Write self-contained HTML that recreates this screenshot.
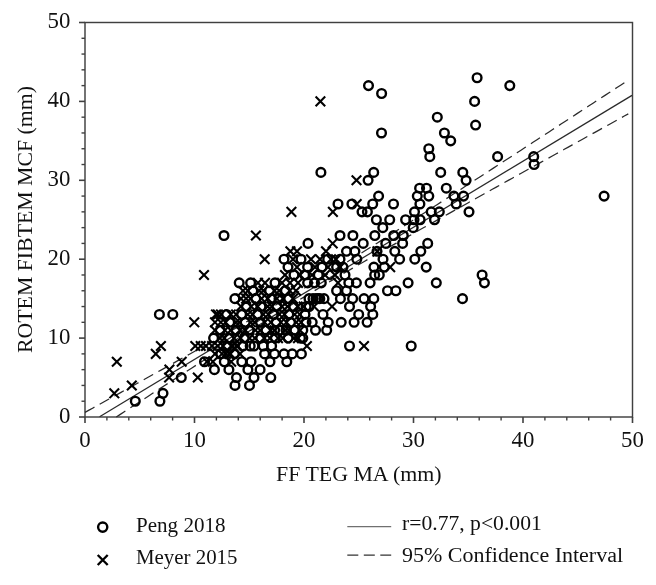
<!DOCTYPE html>
<html><head><meta charset="utf-8"><style>
html,body{margin:0;padding:0;background:#fff;width:656px;height:585px;overflow:hidden}
svg{display:block;filter:grayscale(1)}
.t{font-family:"Liberation Serif",serif;font-size:22px;fill:#111}
.tk{font-family:"Liberation Serif",serif;font-size:22.8px;fill:#111}
.l{font-family:"Liberation Serif",serif;font-size:20.8px;fill:#111}
circle{fill:none;stroke:#000;stroke-width:2.4}
path{fill:none;stroke:#000;stroke-width:2.1}
.o{stroke-width:2.4}
.x{stroke-width:2.4}
</style></head><body>
<svg width="656" height="585" viewBox="0 0 656 585">
<rect x="85.0" y="22.5" width="547.5" height="394.5" fill="none" stroke="#404040" stroke-width="1.45"/>
<line x1="79.0" y1="417.00" x2="85.0" y2="417.00" stroke="#404040" stroke-width="1.6"/>
<line x1="81.5" y1="401.22" x2="85.0" y2="401.22" stroke="#404040" stroke-width="1.4"/>
<line x1="81.5" y1="385.44" x2="85.0" y2="385.44" stroke="#404040" stroke-width="1.4"/>
<line x1="81.5" y1="369.66" x2="85.0" y2="369.66" stroke="#404040" stroke-width="1.4"/>
<line x1="81.5" y1="353.88" x2="85.0" y2="353.88" stroke="#404040" stroke-width="1.4"/>
<line x1="79.0" y1="338.10" x2="85.0" y2="338.10" stroke="#404040" stroke-width="1.6"/>
<line x1="81.5" y1="322.32" x2="85.0" y2="322.32" stroke="#404040" stroke-width="1.4"/>
<line x1="81.5" y1="306.54" x2="85.0" y2="306.54" stroke="#404040" stroke-width="1.4"/>
<line x1="81.5" y1="290.76" x2="85.0" y2="290.76" stroke="#404040" stroke-width="1.4"/>
<line x1="81.5" y1="274.98" x2="85.0" y2="274.98" stroke="#404040" stroke-width="1.4"/>
<line x1="79.0" y1="259.20" x2="85.0" y2="259.20" stroke="#404040" stroke-width="1.6"/>
<line x1="81.5" y1="243.42" x2="85.0" y2="243.42" stroke="#404040" stroke-width="1.4"/>
<line x1="81.5" y1="227.64" x2="85.0" y2="227.64" stroke="#404040" stroke-width="1.4"/>
<line x1="81.5" y1="211.86" x2="85.0" y2="211.86" stroke="#404040" stroke-width="1.4"/>
<line x1="81.5" y1="196.08" x2="85.0" y2="196.08" stroke="#404040" stroke-width="1.4"/>
<line x1="79.0" y1="180.30" x2="85.0" y2="180.30" stroke="#404040" stroke-width="1.6"/>
<line x1="81.5" y1="164.52" x2="85.0" y2="164.52" stroke="#404040" stroke-width="1.4"/>
<line x1="81.5" y1="148.74" x2="85.0" y2="148.74" stroke="#404040" stroke-width="1.4"/>
<line x1="81.5" y1="132.96" x2="85.0" y2="132.96" stroke="#404040" stroke-width="1.4"/>
<line x1="81.5" y1="117.18" x2="85.0" y2="117.18" stroke="#404040" stroke-width="1.4"/>
<line x1="79.0" y1="101.40" x2="85.0" y2="101.40" stroke="#404040" stroke-width="1.6"/>
<line x1="81.5" y1="85.62" x2="85.0" y2="85.62" stroke="#404040" stroke-width="1.4"/>
<line x1="81.5" y1="69.84" x2="85.0" y2="69.84" stroke="#404040" stroke-width="1.4"/>
<line x1="81.5" y1="54.06" x2="85.0" y2="54.06" stroke="#404040" stroke-width="1.4"/>
<line x1="81.5" y1="38.28" x2="85.0" y2="38.28" stroke="#404040" stroke-width="1.4"/>
<line x1="79.0" y1="22.50" x2="85.0" y2="22.50" stroke="#404040" stroke-width="1.6"/>
<line x1="85.00" y1="417.0" x2="85.00" y2="423.0" stroke="#404040" stroke-width="1.6"/>
<line x1="106.90" y1="417.0" x2="106.90" y2="420.5" stroke="#404040" stroke-width="1.4"/>
<line x1="128.80" y1="417.0" x2="128.80" y2="420.5" stroke="#404040" stroke-width="1.4"/>
<line x1="150.70" y1="417.0" x2="150.70" y2="420.5" stroke="#404040" stroke-width="1.4"/>
<line x1="172.60" y1="417.0" x2="172.60" y2="420.5" stroke="#404040" stroke-width="1.4"/>
<line x1="194.50" y1="417.0" x2="194.50" y2="423.0" stroke="#404040" stroke-width="1.6"/>
<line x1="216.40" y1="417.0" x2="216.40" y2="420.5" stroke="#404040" stroke-width="1.4"/>
<line x1="238.30" y1="417.0" x2="238.30" y2="420.5" stroke="#404040" stroke-width="1.4"/>
<line x1="260.20" y1="417.0" x2="260.20" y2="420.5" stroke="#404040" stroke-width="1.4"/>
<line x1="282.10" y1="417.0" x2="282.10" y2="420.5" stroke="#404040" stroke-width="1.4"/>
<line x1="304.00" y1="417.0" x2="304.00" y2="423.0" stroke="#404040" stroke-width="1.6"/>
<line x1="325.90" y1="417.0" x2="325.90" y2="420.5" stroke="#404040" stroke-width="1.4"/>
<line x1="347.80" y1="417.0" x2="347.80" y2="420.5" stroke="#404040" stroke-width="1.4"/>
<line x1="369.70" y1="417.0" x2="369.70" y2="420.5" stroke="#404040" stroke-width="1.4"/>
<line x1="391.60" y1="417.0" x2="391.60" y2="420.5" stroke="#404040" stroke-width="1.4"/>
<line x1="413.50" y1="417.0" x2="413.50" y2="423.0" stroke="#404040" stroke-width="1.6"/>
<line x1="435.40" y1="417.0" x2="435.40" y2="420.5" stroke="#404040" stroke-width="1.4"/>
<line x1="457.30" y1="417.0" x2="457.30" y2="420.5" stroke="#404040" stroke-width="1.4"/>
<line x1="479.20" y1="417.0" x2="479.20" y2="420.5" stroke="#404040" stroke-width="1.4"/>
<line x1="501.10" y1="417.0" x2="501.10" y2="420.5" stroke="#404040" stroke-width="1.4"/>
<line x1="523.00" y1="417.0" x2="523.00" y2="423.0" stroke="#404040" stroke-width="1.6"/>
<line x1="544.90" y1="417.0" x2="544.90" y2="420.5" stroke="#404040" stroke-width="1.4"/>
<line x1="566.80" y1="417.0" x2="566.80" y2="420.5" stroke="#404040" stroke-width="1.4"/>
<line x1="588.70" y1="417.0" x2="588.70" y2="420.5" stroke="#404040" stroke-width="1.4"/>
<line x1="610.60" y1="417.0" x2="610.60" y2="420.5" stroke="#404040" stroke-width="1.4"/>
<line x1="632.50" y1="417.0" x2="632.50" y2="423.0" stroke="#404040" stroke-width="1.6"/>
<text x="70.3" y="422.90" text-anchor="end" class="tk">0</text>
<text x="85.00" y="447" text-anchor="middle" class="tk">0</text>
<text x="70.3" y="344.00" text-anchor="end" class="tk">10</text>
<text x="194.50" y="447" text-anchor="middle" class="tk">10</text>
<text x="70.3" y="265.10" text-anchor="end" class="tk">20</text>
<text x="304.00" y="447" text-anchor="middle" class="tk">20</text>
<text x="70.3" y="186.20" text-anchor="end" class="tk">30</text>
<text x="413.50" y="447" text-anchor="middle" class="tk">30</text>
<text x="70.3" y="107.30" text-anchor="end" class="tk">40</text>
<text x="523.00" y="447" text-anchor="middle" class="tk">40</text>
<text x="70.3" y="28.40" text-anchor="end" class="tk">50</text>
<text x="632.50" y="447" text-anchor="middle" class="tk">50</text>
<text x="276" y="480.5" textLength="165.5" lengthAdjust="spacingAndGlyphs" class="t">FF TEG MA (mm)</text>
<text transform="translate(32,353) rotate(-90)" textLength="267" lengthAdjust="spacingAndGlyphs" class="t">ROTEM FIBTEM MCF (mm)</text>
<line x1="99.6" y1="416.7" x2="632" y2="95.40" stroke="#2a2a2a" stroke-width="1.25"/>
<polyline points="85.0,412.39 89.0,410.17 93.0,407.95 97.0,405.73 101.0,403.51 105.0,401.28 109.0,399.06 113.0,396.84 117.0,394.61 121.0,392.39 125.0,390.16 129.0,387.94 133.0,385.71 137.0,383.48 141.0,381.25 145.0,379.02 149.0,376.79 153.0,374.56 157.0,372.33 161.0,370.10 165.0,367.86 169.0,365.63 173.0,363.39 177.0,361.15 181.0,358.91 185.0,356.67 189.0,354.43 193.0,352.19 197.0,349.94 201.0,347.69 205.0,345.44 209.0,343.19 213.0,340.93 217.0,338.67 221.0,336.41 225.0,334.15 229.0,331.88 233.0,329.61 237.0,327.34 241.0,325.06 245.0,322.78 249.0,320.49 253.0,318.20 257.0,315.90 261.0,313.60 265.0,311.29 269.0,308.97 273.0,306.65 277.0,304.32 281.0,301.98 285.0,299.63 289.0,297.28 293.0,294.91 297.0,292.54 301.0,290.16 305.0,287.77 309.0,285.37 313.0,282.96 317.0,280.54 321.0,278.10 325.0,275.66 329.0,273.21 333.0,270.76 337.0,268.29 341.0,265.81 345.0,263.33 349.0,260.83 353.0,258.33 357.0,255.83 361.0,253.31 365.0,250.79 369.0,248.26 373.0,245.73 377.0,243.19 381.0,240.65 385.0,238.11 389.0,235.55 393.0,233.00 397.0,230.44 401.0,227.88 405.0,225.31 409.0,222.74 413.0,220.17 417.0,217.60 421.0,215.02 425.0,212.45 429.0,209.86 433.0,207.28 437.0,204.70 441.0,202.11 445.0,199.52 449.0,196.94 453.0,194.35 457.0,191.75 461.0,189.16 465.0,186.57 469.0,183.97 473.0,181.37 477.0,178.78 481.0,176.18 485.0,173.58 489.0,170.98 493.0,168.38 497.0,165.78 501.0,163.18 505.0,160.57 509.0,157.97 513.0,155.37 517.0,152.76 521.0,150.16 525.0,147.55 529.0,144.95 533.0,142.34 537.0,139.73 541.0,137.12 545.0,134.52 549.0,131.91 553.0,129.30 557.0,126.69 561.0,124.08 565.0,121.47 569.0,118.86 573.0,116.25 577.0,113.64 581.0,111.03 585.0,108.42 589.0,105.81 593.0,103.20 597.0,100.59 601.0,97.97 605.0,95.36 609.0,92.75 613.0,90.14 617.0,87.52 621.0,84.91 625.0,82.30 629.0,79.69" fill="none" stroke="#2a2a2a" stroke-width="1.25" stroke-dasharray="10.8,6"/>
<polyline points="116.3,416.98 120.3,414.38 124.3,411.78 128.3,409.17 132.3,406.57 136.3,403.97 140.3,401.37 144.3,398.77 148.3,396.17 152.3,393.58 156.3,390.98 160.3,388.39 164.3,385.79 168.3,383.20 172.3,380.61 176.3,378.02 180.3,375.43 184.3,372.84 188.3,370.26 192.3,367.67 196.3,365.09 200.3,362.51 204.3,359.93 208.3,357.36 212.3,354.78 216.3,352.21 220.3,349.65 224.3,347.08 228.3,344.52 232.3,341.96 236.3,339.41 240.3,336.86 244.3,334.31 248.3,331.77 252.3,329.23 256.3,326.70 260.3,324.18 264.3,321.66 268.3,319.14 272.3,316.64 276.3,314.14 280.3,311.65 284.3,309.16 288.3,306.69 292.3,304.22 296.3,301.77 300.3,299.32 304.3,296.88 308.3,294.45 312.3,292.03 316.3,289.62 320.3,287.23 324.3,284.84 328.3,282.46 332.3,280.09 336.3,277.72 340.3,275.37 344.3,273.03 348.3,270.69 352.3,268.36 356.3,266.04 360.3,263.72 364.3,261.42 368.3,259.11 372.3,256.82 376.3,254.53 380.3,252.24 384.3,249.96 388.3,247.68 392.3,245.41 396.3,243.14 400.3,240.87 404.3,238.61 408.3,236.35 412.3,234.09 416.3,231.83 420.3,229.58 424.3,227.33 428.3,225.08 432.3,222.84 436.3,220.59 440.3,218.35 444.3,216.11 448.3,213.87 452.3,211.63 456.3,209.40 460.3,207.16 464.3,204.93 468.3,202.69 472.3,200.46 476.3,198.23 480.3,196.00 484.3,193.77 488.3,191.54 492.3,189.32 496.3,187.09 500.3,184.86 504.3,182.64 508.3,180.41 512.3,178.19 516.3,175.97 520.3,173.74 524.3,171.52 528.3,169.30 532.3,167.08 536.3,164.86 540.3,162.64 544.3,160.41 548.3,158.19 552.3,155.98 556.3,153.76 560.3,151.54 564.3,149.32 568.3,147.10 572.3,144.88 576.3,142.67 580.3,140.45 584.3,138.23 588.3,136.01 592.3,133.80 596.3,131.58 600.3,129.36 604.3,127.15 608.3,124.93 612.3,122.72 616.3,120.50 620.3,118.29 624.3,116.07 628.3,113.86" fill="none" stroke="#2a2a2a" stroke-width="1.25" stroke-dasharray="10.8,6"/>
<circle cx="477.1" cy="77.73" r="4.35"/>
<circle cx="368.5" cy="85.62" r="4.35"/>
<circle cx="509.8" cy="85.62" r="4.35"/>
<circle cx="381.6" cy="93.51" r="4.35"/>
<circle cx="474.6" cy="101.4" r="4.35"/>
<circle cx="437.3" cy="117.18" r="4.35"/>
<circle cx="475.6" cy="125.07" r="4.35"/>
<circle cx="444.4" cy="132.96" r="4.35"/>
<circle cx="381.5" cy="132.96" r="4.35"/>
<circle cx="450.7" cy="140.85" r="4.35"/>
<circle cx="428.8" cy="148.74" r="4.35"/>
<circle cx="429.8" cy="156.63" r="4.35"/>
<circle cx="497.6" cy="156.63" r="4.35"/>
<circle cx="533.7" cy="156.63" r="4.35"/>
<circle cx="534.1" cy="164.52" r="4.35"/>
<circle cx="320.9" cy="172.41" r="4.35"/>
<circle cx="373.7" cy="172.41" r="4.35"/>
<circle cx="440.7" cy="172.41" r="4.35"/>
<circle cx="462.8" cy="172.41" r="4.35"/>
<circle cx="368.1" cy="180.3" r="4.35"/>
<circle cx="466.1" cy="180.3" r="4.35"/>
<circle cx="419.6" cy="188.19" r="4.35"/>
<circle cx="426.5" cy="188.19" r="4.35"/>
<circle cx="446.3" cy="188.19" r="4.35"/>
<circle cx="604.1" cy="196.08" r="4.35"/>
<circle cx="378.6" cy="196.08" r="4.35"/>
<circle cx="417.3" cy="196.08" r="4.35"/>
<circle cx="428.8" cy="196.08" r="4.35"/>
<circle cx="453.9" cy="196.08" r="4.35"/>
<circle cx="463.5" cy="196.08" r="4.35"/>
<circle cx="338" cy="203.97" r="4.35"/>
<circle cx="351.9" cy="203.97" r="4.35"/>
<circle cx="372.7" cy="203.97" r="4.35"/>
<circle cx="393.5" cy="203.97" r="4.35"/>
<circle cx="419.9" cy="203.97" r="4.35"/>
<circle cx="456.2" cy="203.97" r="4.35"/>
<circle cx="362" cy="211.86" r="4.35"/>
<circle cx="367.4" cy="211.86" r="4.35"/>
<circle cx="414.5" cy="211.86" r="4.35"/>
<circle cx="431.2" cy="211.86" r="4.35"/>
<circle cx="439.3" cy="211.86" r="4.35"/>
<circle cx="469" cy="211.86" r="4.35"/>
<circle cx="376.4" cy="219.75" r="4.35"/>
<circle cx="389.7" cy="219.75" r="4.35"/>
<circle cx="405.6" cy="219.75" r="4.35"/>
<circle cx="414" cy="219.75" r="4.35"/>
<circle cx="420.1" cy="219.75" r="4.35"/>
<circle cx="434.5" cy="219.75" r="4.35"/>
<circle cx="382.8" cy="227.64" r="4.35"/>
<circle cx="413.2" cy="227.64" r="4.35"/>
<circle cx="224" cy="235.53" r="4.35"/>
<circle cx="340" cy="235.53" r="4.35"/>
<circle cx="352.9" cy="235.53" r="4.35"/>
<circle cx="374.8" cy="235.53" r="4.35"/>
<circle cx="393.7" cy="235.53" r="4.35"/>
<circle cx="403.3" cy="235.53" r="4.35"/>
<circle cx="308" cy="243.42" r="4.35"/>
<circle cx="363.2" cy="243.42" r="4.35"/>
<circle cx="385.8" cy="243.42" r="4.35"/>
<circle cx="402.6" cy="243.42" r="4.35"/>
<circle cx="427.7" cy="243.42" r="4.35"/>
<circle cx="346.5" cy="251.31" r="4.35"/>
<circle cx="354.9" cy="251.31" r="4.35"/>
<circle cx="377" cy="251.31" r="4.35"/>
<circle cx="394.8" cy="251.31" r="4.35"/>
<circle cx="420.8" cy="251.31" r="4.35"/>
<circle cx="284" cy="259.2" r="4.35"/>
<circle cx="301" cy="259.2" r="4.35"/>
<circle cx="327.7" cy="259.2" r="4.35"/>
<circle cx="340" cy="259.2" r="4.35"/>
<circle cx="356.8" cy="259.2" r="4.35"/>
<circle cx="383" cy="259.2" r="4.35"/>
<circle cx="399.6" cy="259.2" r="4.35"/>
<circle cx="414.8" cy="259.2" r="4.35"/>
<circle cx="288" cy="267.09" r="4.35"/>
<circle cx="307.6" cy="267.09" r="4.35"/>
<circle cx="322" cy="267.09" r="4.35"/>
<circle cx="336.6" cy="267.09" r="4.35"/>
<circle cx="343" cy="267.09" r="4.35"/>
<circle cx="373.9" cy="267.09" r="4.35"/>
<circle cx="384.3" cy="267.09" r="4.35"/>
<circle cx="426.2" cy="267.09" r="4.35"/>
<circle cx="294" cy="274.98" r="4.35"/>
<circle cx="304.6" cy="274.98" r="4.35"/>
<circle cx="318.3" cy="274.98" r="4.35"/>
<circle cx="345" cy="274.98" r="4.35"/>
<circle cx="374.7" cy="274.98" r="4.35"/>
<circle cx="379.3" cy="274.98" r="4.35"/>
<circle cx="482.1" cy="274.98" r="4.35"/>
<circle cx="239.2" cy="282.87" r="4.35"/>
<circle cx="250.6" cy="282.87" r="4.35"/>
<circle cx="275" cy="282.87" r="4.35"/>
<circle cx="307.6" cy="282.87" r="4.35"/>
<circle cx="314.5" cy="282.87" r="4.35"/>
<circle cx="321.3" cy="282.87" r="4.35"/>
<circle cx="348.8" cy="282.87" r="4.35"/>
<circle cx="356.4" cy="282.87" r="4.35"/>
<circle cx="370.1" cy="282.87" r="4.35"/>
<circle cx="408.1" cy="282.87" r="4.35"/>
<circle cx="436.3" cy="282.87" r="4.35"/>
<circle cx="484.4" cy="282.87" r="4.35"/>
<circle cx="336.6" cy="290.76" r="4.35"/>
<circle cx="346.5" cy="290.76" r="4.35"/>
<circle cx="387.5" cy="290.76" r="4.35"/>
<circle cx="395.9" cy="290.76" r="4.35"/>
<circle cx="234.9" cy="298.65" r="4.35"/>
<circle cx="279" cy="298.65" r="4.35"/>
<circle cx="313" cy="298.65" r="4.35"/>
<circle cx="316" cy="298.65" r="4.35"/>
<circle cx="319.8" cy="298.65" r="4.35"/>
<circle cx="340.4" cy="298.65" r="4.35"/>
<circle cx="352.6" cy="298.65" r="4.35"/>
<circle cx="364" cy="298.65" r="4.35"/>
<circle cx="373.8" cy="298.65" r="4.35"/>
<circle cx="462.5" cy="298.65" r="4.35"/>
<circle cx="306.1" cy="306.54" r="4.35"/>
<circle cx="349.5" cy="306.54" r="4.35"/>
<circle cx="370.6" cy="306.54" r="4.35"/>
<circle cx="159.4" cy="314.43" r="4.35"/>
<circle cx="172.8" cy="314.43" r="4.35"/>
<circle cx="323" cy="314.43" r="4.35"/>
<circle cx="358.7" cy="314.43" r="4.35"/>
<circle cx="372.8" cy="314.43" r="4.35"/>
<circle cx="312.2" cy="322.32" r="4.35"/>
<circle cx="328.2" cy="322.32" r="4.35"/>
<circle cx="341.2" cy="322.32" r="4.35"/>
<circle cx="354.1" cy="322.32" r="4.35"/>
<circle cx="367.1" cy="322.32" r="4.35"/>
<circle cx="274.6" cy="330.21" r="4.35"/>
<circle cx="286" cy="330.21" r="4.35"/>
<circle cx="302.8" cy="330.21" r="4.35"/>
<circle cx="315.5" cy="330.21" r="4.35"/>
<circle cx="326.7" cy="330.21" r="4.35"/>
<circle cx="213.6" cy="338.1" r="4.35"/>
<circle cx="275.3" cy="338.1" r="4.35"/>
<circle cx="300.5" cy="338.1" r="4.35"/>
<circle cx="302.8" cy="338.1" r="4.35"/>
<circle cx="250.2" cy="345.99" r="4.35"/>
<circle cx="254" cy="345.99" r="4.35"/>
<circle cx="263.2" cy="345.99" r="4.35"/>
<circle cx="271.6" cy="345.99" r="4.35"/>
<circle cx="349.5" cy="345.99" r="4.35"/>
<circle cx="411.2" cy="345.99" r="4.35"/>
<circle cx="264.6" cy="353.88" r="4.35"/>
<circle cx="274.5" cy="353.88" r="4.35"/>
<circle cx="284" cy="353.88" r="4.35"/>
<circle cx="292.2" cy="353.88" r="4.35"/>
<circle cx="301.4" cy="353.88" r="4.35"/>
<circle cx="204.5" cy="361.77" r="4.35"/>
<circle cx="224.3" cy="361.77" r="4.35"/>
<circle cx="241.8" cy="361.77" r="4.35"/>
<circle cx="251" cy="361.77" r="4.35"/>
<circle cx="270" cy="361.77" r="4.35"/>
<circle cx="286.8" cy="361.77" r="4.35"/>
<circle cx="214.4" cy="369.66" r="4.35"/>
<circle cx="228.9" cy="369.66" r="4.35"/>
<circle cx="247.9" cy="369.66" r="4.35"/>
<circle cx="260.1" cy="369.66" r="4.35"/>
<circle cx="181.3" cy="377.55" r="4.35"/>
<circle cx="236.5" cy="377.55" r="4.35"/>
<circle cx="254" cy="377.55" r="4.35"/>
<circle cx="270.8" cy="377.55" r="4.35"/>
<circle cx="235" cy="385.44" r="4.35"/>
<circle cx="249.5" cy="385.44" r="4.35"/>
<circle cx="163" cy="393.33" r="4.35"/>
<circle cx="135.3" cy="401.22" r="4.35"/>
<circle cx="159.9" cy="401.22" r="4.35"/>
<circle cx="252.9" cy="290.76" r="4.35"/>
<circle cx="269.6" cy="290.76" r="4.35"/>
<circle cx="285.4" cy="290.76" r="4.35"/>
<circle cx="255.8" cy="298.65" r="4.35"/>
<circle cx="271.4" cy="298.65" r="4.35"/>
<circle cx="288.7" cy="298.65" r="4.35"/>
<circle cx="246.4" cy="306.54" r="4.35"/>
<circle cx="261.0" cy="306.54" r="4.35"/>
<circle cx="276.8" cy="306.54" r="4.35"/>
<circle cx="293.8" cy="306.54" r="4.35"/>
<circle cx="309.1" cy="306.54" r="4.35"/>
<circle cx="226.6" cy="314.43" r="4.35"/>
<circle cx="241.6" cy="314.43" r="4.35"/>
<circle cx="257.5" cy="314.43" r="4.35"/>
<circle cx="273.2" cy="314.43" r="4.35"/>
<circle cx="288.8" cy="314.43" r="4.35"/>
<circle cx="305.0" cy="314.43" r="4.35"/>
<circle cx="229.7" cy="322.32" r="4.35"/>
<circle cx="245.2" cy="322.32" r="4.35"/>
<circle cx="260.5" cy="322.32" r="4.35"/>
<circle cx="276.2" cy="322.32" r="4.35"/>
<circle cx="290.5" cy="322.32" r="4.35"/>
<circle cx="306.0" cy="322.32" r="4.35"/>
<circle cx="220.2" cy="330.21" r="4.35"/>
<circle cx="235.9" cy="330.21" r="4.35"/>
<circle cx="249.1" cy="330.21" r="4.35"/>
<circle cx="266.0" cy="330.21" r="4.35"/>
<circle cx="279.8" cy="330.21" r="4.35"/>
<circle cx="294.9" cy="330.21" r="4.35"/>
<circle cx="229.2" cy="338.1" r="4.35"/>
<circle cx="244.3" cy="338.1" r="4.35"/>
<circle cx="260.7" cy="338.1" r="4.35"/>
<circle cx="288.1" cy="338.1" r="4.35"/>
<circle cx="227.1" cy="345.99" r="4.35"/>
<circle cx="243.0" cy="345.99" r="4.35"/>
<circle cx="220.8" cy="353.88" r="4.35"/>
<circle cx="234.4" cy="353.88" r="4.35"/>
<circle cx="309" cy="298.65" r="4.35"/>
<circle cx="318" cy="298.65" r="4.35"/>
<circle cx="324" cy="298.65" r="4.35"/>
<path d="M315.59999999999997 96.60000000000001L325.2 106.2M315.59999999999997 106.2L325.2 96.60000000000001"/>
<path d="M351.7 175.5L361.3 185.10000000000002M351.7 185.10000000000002L361.3 175.5"/>
<path d="M351.9 199.17L361.5 208.77M351.9 208.77L361.5 199.17"/>
<path d="M286.59999999999997 207.06L296.2 216.66000000000003M286.59999999999997 216.66000000000003L296.2 207.06"/>
<path d="M328.09999999999997 207.06L337.7 216.66000000000003M328.09999999999997 216.66000000000003L337.7 207.06"/>
<path d="M327.9 238.61999999999998L337.5 248.22M327.9 248.22L337.5 238.61999999999998"/>
<path d="M285.59999999999997 246.51L295.2 256.11M285.59999999999997 256.11L295.2 246.51"/>
<path d="M292.2 246.51L301.8 256.11M292.2 256.11L301.8 246.51"/>
<path d="M321.2 246.51L330.8 256.11M321.2 256.11L330.8 246.51"/>
<path d="M372.59999999999997 246.51L382.2 256.11M372.59999999999997 256.11L382.2 246.51"/>
<path d="M259.9 254.39999999999998L269.5 264.0M259.9 264.0L269.5 254.39999999999998"/>
<path d="M385.4 262.28999999999996L395.0 271.89M385.4 271.89L395.0 262.28999999999996"/>
<path d="M199.2 270.18L208.8 279.78000000000003M199.2 279.78000000000003L208.8 270.18"/>
<path d="M327.2 301.74L336.8 311.34000000000003M327.2 311.34000000000003L336.8 301.74"/>
<path d="M213.1 309.63L222.70000000000002 319.23M213.1 319.23L222.70000000000002 309.63"/>
<path d="M189.5 317.52L199.10000000000002 327.12M189.5 327.12L199.10000000000002 317.52"/>
<path d="M156.1 341.19L165.70000000000002 350.79M156.1 350.79L165.70000000000002 341.19"/>
<path d="M190.5 341.19L200.10000000000002 350.79M190.5 350.79L200.10000000000002 341.19"/>
<path d="M195.89999999999998 341.19L205.5 350.79M195.89999999999998 350.79L205.5 341.19"/>
<path d="M201.2 341.19L210.8 350.79M201.2 350.79L210.8 341.19"/>
<path d="M226.39999999999998 341.19L236.0 350.79M226.39999999999998 350.79L236.0 341.19"/>
<path d="M231.7 341.19L241.3 350.79M231.7 350.79L241.3 341.19"/>
<path d="M302.09999999999997 341.19L311.7 350.79M302.09999999999997 350.79L311.7 341.19"/>
<path d="M359.2 341.19L368.8 350.79M359.2 350.79L368.8 341.19"/>
<path d="M151.0 349.08L160.60000000000002 358.68M151.0 358.68L160.60000000000002 349.08"/>
<path d="M217.2 349.08L226.8 358.68M217.2 358.68L226.8 349.08"/>
<path d="M225.6 349.08L235.20000000000002 358.68M225.6 358.68L235.20000000000002 349.08"/>
<path d="M112.0 356.96999999999997L121.6 366.57M112.0 366.57L121.6 356.96999999999997"/>
<path d="M176.89999999999998 356.96999999999997L186.5 366.57M176.89999999999998 366.57L186.5 356.96999999999997"/>
<path d="M202.2 356.96999999999997L211.8 366.57M202.2 366.57L211.8 356.96999999999997"/>
<path d="M208.1 356.96999999999997L217.70000000000002 366.57M208.1 366.57L217.70000000000002 356.96999999999997"/>
<path d="M226.39999999999998 356.96999999999997L236.0 366.57M226.39999999999998 366.57L236.0 356.96999999999997"/>
<path d="M164.6 364.86L174.20000000000002 374.46000000000004M164.6 374.46000000000004L174.20000000000002 364.86"/>
<path d="M164.29999999999998 372.75L173.9 382.35M164.29999999999998 382.35L173.9 372.75"/>
<path d="M193.0 372.75L202.60000000000002 382.35M193.0 382.35L202.60000000000002 372.75"/>
<path d="M127.00000000000001 380.64L136.60000000000002 390.24M127.00000000000001 390.24L136.60000000000002 380.64"/>
<path d="M109.5 388.53L119.1 398.13M109.5 398.13L119.1 388.53"/>
<path d="M251.1 230.73L260.7 240.33M251.1 240.33L260.7 230.73"/>
<path d="M238.2 285.96L247.8 295.56M238.2 295.56L247.8 285.96"/>
<path d="M243.1 285.96L252.70000000000002 295.56M243.1 295.56L252.70000000000002 285.96"/>
<path d="M254.39999999999998 285.96L264.0 295.56M254.39999999999998 295.56L264.0 285.96"/>
<path d="M258.5 285.96L268.1 295.56M258.5 295.56L268.1 285.96"/>
<path d="M269.7 285.96L279.3 295.56M269.7 295.56L279.3 285.96"/>
<path d="M274.4 285.96L284.0 295.56M274.4 295.56L284.0 285.96"/>
<path d="M285.0 285.96L294.6 295.56M285.0 295.56L294.6 285.96"/>
<path d="M291.2 285.96L300.8 295.56M291.2 295.56L300.8 285.96"/>
<path d="M236.2 293.84999999999997L245.8 303.45M236.2 303.45L245.8 293.84999999999997"/>
<path d="M241.29999999999998 293.84999999999997L250.9 303.45M241.29999999999998 303.45L250.9 293.84999999999997"/>
<path d="M245.7 293.84999999999997L255.3 303.45M245.7 303.45L255.3 293.84999999999997"/>
<path d="M256.8 293.84999999999997L266.40000000000003 303.45M256.8 303.45L266.40000000000003 293.84999999999997"/>
<path d="M262.9 293.84999999999997L272.5 303.45M262.9 303.45L272.5 293.84999999999997"/>
<path d="M272.0 293.84999999999997L281.6 303.45M272.0 303.45L281.6 293.84999999999997"/>
<path d="M278.09999999999997 293.84999999999997L287.7 303.45M278.09999999999997 303.45L287.7 293.84999999999997"/>
<path d="M288.2 293.84999999999997L297.8 303.45M288.2 303.45L297.8 293.84999999999997"/>
<path d="M236.2 301.74L245.8 311.34000000000003M236.2 311.34000000000003L245.8 301.74"/>
<path d="M246.39999999999998 301.74L256.0 311.34000000000003M246.39999999999998 311.34000000000003L256.0 301.74"/>
<path d="M252.8 301.74L262.40000000000003 311.34000000000003M252.8 311.34000000000003L262.40000000000003 301.74"/>
<path d="M263.0 301.74L272.6 311.34000000000003M263.0 311.34000000000003L272.6 301.74"/>
<path d="M267.09999999999997 301.74L276.7 311.34000000000003M267.09999999999997 311.34000000000003L276.7 301.74"/>
<path d="M277.09999999999997 301.74L286.7 311.34000000000003M277.09999999999997 311.34000000000003L286.7 301.74"/>
<path d="M282.7 301.74L292.3 311.34000000000003M282.7 311.34000000000003L292.3 301.74"/>
<path d="M292.9 301.74L302.5 311.34000000000003M292.9 311.34000000000003L302.5 301.74"/>
<path d="M298.9 301.74L308.5 311.34000000000003M298.9 311.34000000000003L308.5 301.74"/>
<path d="M309.2 301.74L318.8 311.34000000000003M309.2 311.34000000000003L318.8 301.74"/>
<path d="M211.2 309.63L220.8 319.23M211.2 319.23L220.8 309.63"/>
<path d="M216.2 309.63L225.8 319.23M216.2 319.23L225.8 309.63"/>
<path d="M226.0 309.63L235.60000000000002 319.23M226.0 319.23L235.60000000000002 309.63"/>
<path d="M231.29999999999998 309.63L240.9 319.23M231.29999999999998 319.23L240.9 309.63"/>
<path d="M243.0 309.63L252.60000000000002 319.23M243.0 319.23L252.60000000000002 309.63"/>
<path d="M247.7 309.63L257.3 319.23M247.7 319.23L257.3 309.63"/>
<path d="M258.5 309.63L268.1 319.23M258.5 319.23L268.1 309.63"/>
<path d="M263.5 309.63L273.1 319.23M263.5 319.23L273.1 309.63"/>
<path d="M274.59999999999997 309.63L284.2 319.23M274.59999999999997 319.23L284.2 309.63"/>
<path d="M279.7 309.63L289.3 319.23M279.7 319.23L289.3 309.63"/>
<path d="M289.9 309.63L299.5 319.23M289.9 319.23L299.5 309.63"/>
<path d="M295.0 309.63L304.6 319.23M295.0 319.23L304.6 309.63"/>
<path d="M210.2 317.52L219.8 327.12M210.2 327.12L219.8 317.52"/>
<path d="M216.0 317.52L225.60000000000002 327.12M216.0 327.12L225.60000000000002 317.52"/>
<path d="M220.79999999999998 317.52L230.4 327.12M220.79999999999998 327.12L230.4 317.52"/>
<path d="M231.39999999999998 317.52L241.0 327.12M231.39999999999998 327.12L241.0 317.52"/>
<path d="M234.7 317.52L244.3 327.12M234.7 327.12L244.3 317.52"/>
<path d="M246.1 317.52L255.70000000000002 327.12M246.1 327.12L255.70000000000002 317.52"/>
<path d="M249.89999999999998 317.52L259.5 327.12M249.89999999999998 327.12L259.5 317.52"/>
<path d="M259.8 317.52L269.40000000000003 327.12M259.8 327.12L269.40000000000003 317.52"/>
<path d="M266.09999999999997 317.52L275.7 327.12M266.09999999999997 327.12L275.7 317.52"/>
<path d="M276.09999999999997 317.52L285.7 327.12M276.09999999999997 327.12L285.7 317.52"/>
<path d="M281.7 317.52L291.3 327.12M281.7 327.12L291.3 317.52"/>
<path d="M291.5 317.52L301.1 327.12M291.5 327.12L301.1 317.52"/>
<path d="M296.3 317.52L305.90000000000003 327.12M296.3 327.12L305.90000000000003 317.52"/>
<path d="M210.2 325.40999999999997L219.8 335.01M210.2 335.01L219.8 325.40999999999997"/>
<path d="M220.1 325.40999999999997L229.70000000000002 335.01M220.1 335.01L229.70000000000002 325.40999999999997"/>
<path d="M225.89999999999998 325.40999999999997L235.5 335.01M225.89999999999998 335.01L235.5 325.40999999999997"/>
<path d="M235.1 325.40999999999997L244.70000000000002 335.01M235.1 335.01L244.70000000000002 325.40999999999997"/>
<path d="M240.5 325.40999999999997L250.10000000000002 335.01M240.5 335.01L250.10000000000002 325.40999999999997"/>
<path d="M250.6 325.40999999999997L260.2 335.01M250.6 335.01L260.2 325.40999999999997"/>
<path d="M255.5 325.40999999999997L265.1 335.01M255.5 335.01L265.1 325.40999999999997"/>
<path d="M265.8 325.40999999999997L275.40000000000003 335.01M265.8 335.01L275.40000000000003 325.40999999999997"/>
<path d="M269.8 325.40999999999997L279.40000000000003 335.01M269.8 335.01L279.40000000000003 325.40999999999997"/>
<path d="M280.5 325.40999999999997L290.1 335.01M280.5 335.01L290.1 325.40999999999997"/>
<path d="M284.2 325.40999999999997L293.8 335.01M284.2 335.01L293.8 325.40999999999997"/>
<path d="M295.2 325.40999999999997L304.8 335.01M295.2 335.01L304.8 325.40999999999997"/>
<path d="M215.2 333.3L224.8 342.90000000000003M215.2 342.90000000000003L224.8 333.3"/>
<path d="M219.5 333.3L229.10000000000002 342.90000000000003M219.5 342.90000000000003L229.10000000000002 333.3"/>
<path d="M229.29999999999998 333.3L238.9 342.90000000000003M229.29999999999998 342.90000000000003L238.9 333.3"/>
<path d="M235.7 333.3L245.3 342.90000000000003M235.7 342.90000000000003L245.3 333.3"/>
<path d="M244.7 333.3L254.3 342.90000000000003M244.7 342.90000000000003L254.3 333.3"/>
<path d="M250.0 333.3L259.6 342.90000000000003M250.0 342.90000000000003L259.6 333.3"/>
<path d="M259.4 333.3L269.0 342.90000000000003M259.4 342.90000000000003L269.0 333.3"/>
<path d="M265.2 333.3L274.8 342.90000000000003M265.2 342.90000000000003L274.8 333.3"/>
<path d="M273.2 333.3L282.8 342.90000000000003M273.2 342.90000000000003L282.8 333.3"/>
<path d="M278.09999999999997 333.3L287.7 342.90000000000003M278.09999999999997 342.90000000000003L287.7 333.3"/>
<path d="M289.0 333.3L298.6 342.90000000000003M289.0 342.90000000000003L298.6 333.3"/>
<path d="M293.2 333.3L302.8 342.90000000000003M293.2 342.90000000000003L302.8 333.3"/>
<path d="M207.2 341.19L216.8 350.79M207.2 350.79L216.8 341.19"/>
<path d="M213.0 341.19L222.60000000000002 350.79M213.0 350.79L222.60000000000002 341.19"/>
<path d="M218.29999999999998 341.19L227.9 350.79M218.29999999999998 350.79L227.9 341.19"/>
<path d="M227.7 341.19L237.3 350.79M227.7 350.79L237.3 341.19"/>
<path d="M232.79999999999998 341.19L242.4 350.79M232.79999999999998 350.79L242.4 341.19"/>
<path d="M210.2 349.08L219.8 358.68M210.2 358.68L219.8 349.08"/>
<path d="M221.1 349.08L230.70000000000002 358.68M221.1 358.68L230.70000000000002 349.08"/>
<path d="M224.5 349.08L234.10000000000002 358.68M224.5 358.68L234.10000000000002 349.08"/>
<path d="M235.2 349.08L244.8 358.68M235.2 358.68L244.8 349.08"/>
<path d="M253.2 278.07L262.8 287.67M253.2 287.67L262.8 278.07"/>
<path d="M260.2 278.07L269.8 287.67M260.2 287.67L269.8 278.07"/>
<path d="M277.2 278.07L286.8 287.67M277.2 287.67L286.8 278.07"/>
<path d="M285.2 278.07L294.8 287.67M285.2 287.67L294.8 278.07"/>
<path d="M293.2 278.07L302.8 287.67M293.2 287.67L302.8 278.07"/>
<path d="M333.2 278.07L342.8 287.67M333.2 287.67L342.8 278.07"/>
<path d="M280.2 270.18L289.8 279.78000000000003M280.2 279.78000000000003L289.8 270.18"/>
<path d="M295.2 270.18L304.8 279.78000000000003M295.2 279.78000000000003L304.8 270.18"/>
<path d="M307.2 270.18L316.8 279.78000000000003M307.2 279.78000000000003L316.8 270.18"/>
<path d="M320.2 270.18L329.8 279.78000000000003M320.2 279.78000000000003L329.8 270.18"/>
<path d="M330.2 270.18L339.8 279.78000000000003M330.2 279.78000000000003L339.8 270.18"/>
<path d="M292.2 262.28999999999996L301.8 271.89M292.2 271.89L301.8 262.28999999999996"/>
<path d="M310.2 262.28999999999996L319.8 271.89M310.2 271.89L319.8 262.28999999999996"/>
<path d="M335.2 262.28999999999996L344.8 271.89M335.2 271.89L344.8 262.28999999999996"/>
<path d="M288.2 254.39999999999998L297.8 264.0M288.2 264.0L297.8 254.39999999999998"/>
<path d="M306.2 254.39999999999998L315.8 264.0M306.2 264.0L315.8 254.39999999999998"/>
<path d="M315.2 254.39999999999998L324.8 264.0M315.2 264.0L324.8 254.39999999999998"/>
<path d="M331.2 254.39999999999998L340.8 264.0M331.2 264.0L340.8 254.39999999999998"/>
<path d="M323.2 262.28999999999996L332.8 271.89M323.2 271.89L332.8 262.28999999999996"/>
<path d="M326.2 254.39999999999998L335.8 264.0M326.2 264.0L335.8 254.39999999999998"/>
<circle cx="102.7" cy="527.1" r="4.6" class="o"/>
<path d="M97.7 555L107.7 565M97.7 565L107.7 555" class="x"/>
<text x="136" y="532" textLength="89.5" lengthAdjust="spacingAndGlyphs" class="l">Peng 2018</text>
<text x="136" y="563.7" textLength="101.5" lengthAdjust="spacingAndGlyphs" class="l">Meyer 2015</text>
<line x1="347.3" y1="526.6" x2="391.2" y2="526.6" stroke="#707070" stroke-width="1.2"/>
<line x1="347.3" y1="555.1" x2="391.2" y2="555.1" stroke="#333" stroke-width="1.2" stroke-dasharray="11,5.5"/>
<text x="402" y="530" textLength="139.8" lengthAdjust="spacingAndGlyphs" class="l">r=0.77, p&lt;0.001</text>
<text x="402" y="561.7" textLength="221" lengthAdjust="spacingAndGlyphs" class="l">95% Confidence Interval</text>
</svg>
</body></html>
